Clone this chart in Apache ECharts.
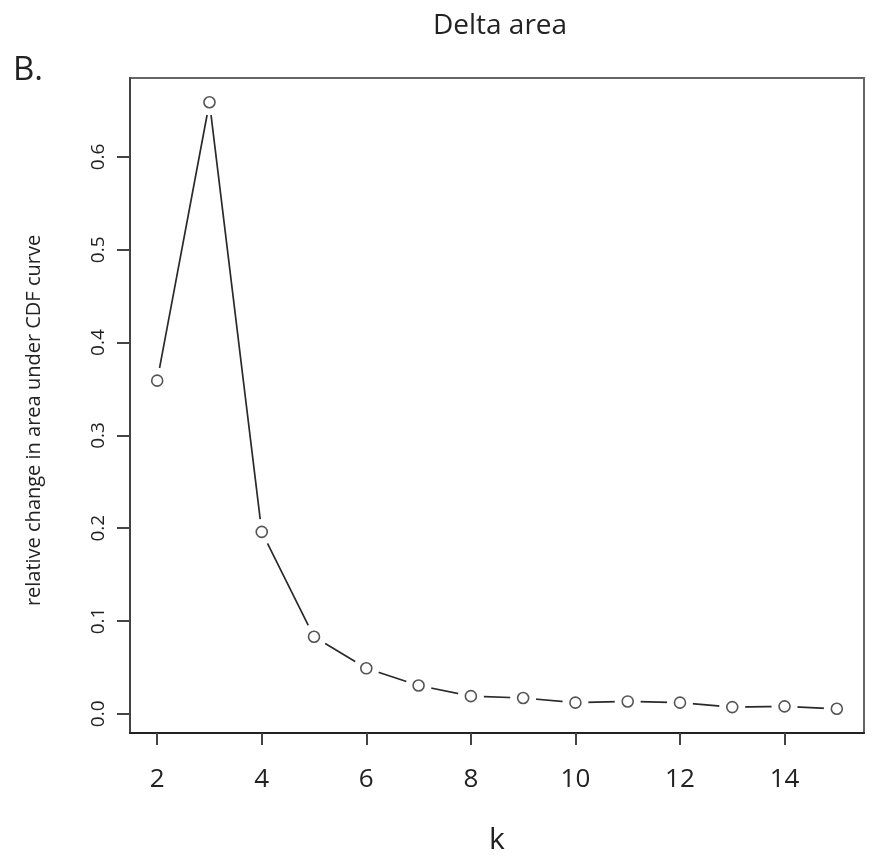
<!DOCTYPE html>
<html>
<head>
<meta charset="utf-8">
<script src="https://cdn.jsdelivr.net/npm/echarts@6/dist/echarts.min.js"></script>
<style>
html,body{margin:0;padding:0;background:#fff;}
#chart{width:872px;height:860px;}
</style>
</head>
<body>
<div id="chart"></div>
<script>
const kValues = [2, 3, 4, 5, 6, 7, 8, 9, 10, 11, 12, 13, 14, 15];
const deltaArea = [0.359, 0.659, 0.196, 0.083, 0.049, 0.0305, 0.019, 0.017, 0.012, 0.0133, 0.012, 0.0072, 0.008, 0.0054];
const xTicks = [2, 4, 6, 8, 10, 12, 14];
const yTicks = [0, 0.1, 0.2, 0.3, 0.4, 0.5, 0.6];
const titleText = 'Delta area';
const panelLabel = 'B.';
const xName = 'k';
const yName = 'relative change in area under CDF curve';

const points = kValues.map((k, i) => [k, deltaArea[i]]);
const FONT = 'Open Sans';

const chart = echarts.init(document.getElementById('chart'), null, {renderer: 'canvas'});
chart.setOption({
  animation: false,
  backgroundColor: '#fff',
  title: [
    {text: titleText, left: 495, top: 7, textAlign: 'center',
     textStyle: {fontFamily: FONT, fontSize: 28, fontWeight: 'normal', color: '#222'}},
    {text: panelLabel, left: 8, top: 49,
     textStyle: {fontFamily: FONT, fontSize: 33, fontWeight: 'normal', color: '#222'}}
  ],
  grid: {left: 130, top: 78, right: 8, bottom: 127, show: true, borderColor: '#666', borderWidth: 2, backgroundColor: 'transparent'},
  xAxis: {
    type: 'value', min: 1.48, max: 15.52,
    name: xName, nameLocation: 'middle', nameGap: 92,
    nameTextStyle: {fontFamily: FONT, fontSize: 30, color: '#222'},
    axisLine: {show: true, onZero: false, lineStyle: {color: '#222', width: 2}},
    axisTick: {show: true, customValues: xTicks, length: 12, lineStyle: {color: '#444', width: 2}},
    axisLabel: {customValues: xTicks, fontFamily: FONT, fontSize: 26, color: '#222', margin: 34},
    splitLine: {show: false}
  },
  yAxis: {
    type: 'value', min: -0.0207, max: 0.6851,
    name: yName, nameLocation: 'middle', nameGap: 86, nameRotate: 90,
    nameTextStyle: {fontFamily: FONT, fontSize: 20, color: '#222', padding: [0, 30, 0, 0]},
    axisLine: {show: true, onZero: false, lineStyle: {color: '#444', width: 2}},
    axisTick: {show: true, customValues: yTicks, length: 13, lineStyle: {color: '#444', width: 2}},
    axisLabel: {customValues: yTicks, rotate: 90, fontFamily: FONT, fontSize: 19, color: '#222', margin: 22,
                formatter: v => v.toFixed(1)},
    splitLine: {show: false}
  },
  series: [
    {
      type: 'line', data: points, z: 2,
      lineStyle: {color: '#2a2a2a', width: 1.7},
      symbol: 'circle', symbolSize: 26,
      itemStyle: {color: '#fff', borderWidth: 0},
      showAllSymbol: true
    },
    {
      type: 'scatter', data: points, z: 3,
      symbol: 'circle', symbolSize: 11,
      itemStyle: {color: '#fff', borderColor: '#2a2a2a', borderWidth: 1.6}
    }
  ]
});
</script>
</body>
</html>
